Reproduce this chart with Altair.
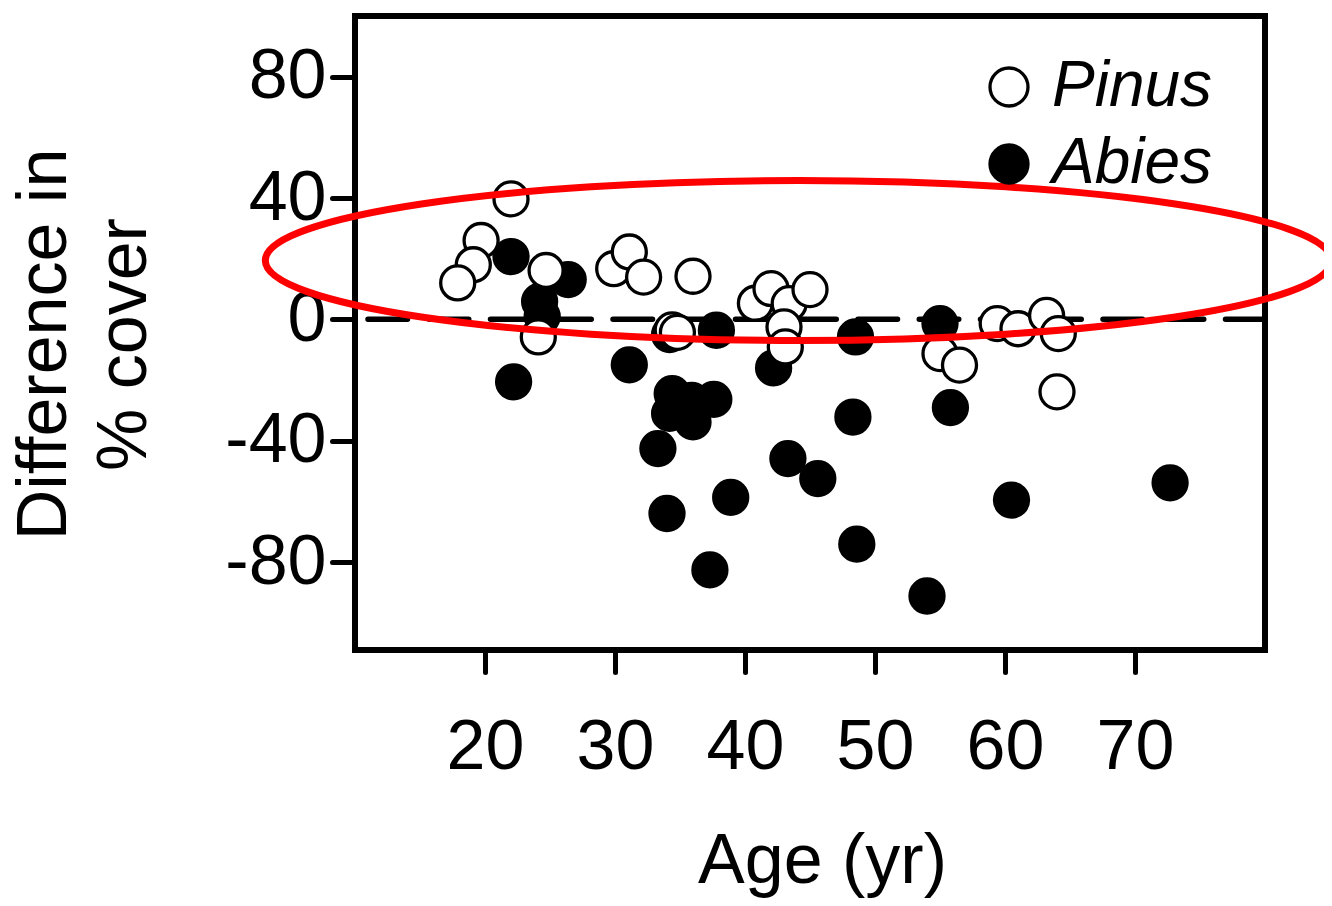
import altair as alt
import pandas as pd

# ---- data ----
species = ["Pinus", "Abies"]
species_fill = ["white", "black"]

pinus_age = [22.0, 19.7, 19.1, 17.9, 24.7, 24.1, 29.9, 31.1, 32.2, 36.0, 34.4, 34.8,
             40.8, 42.0, 43.4, 45.0, 43.0, 43.1, 55.0, 56.5, 59.4, 61.0, 63.2, 64.1, 64.0]
pinus_diff = [39.7, 26.0, 18.0, 12.0, 16.1, -5.8, 16.7, 22.2, 13.9, 14.2, -3.5, -4.3,
              5.3, 10.1, 5.2, 9.8, -2.5, -9.1, -11.3, -15.1, -1.4, -3.1, 1.3, -4.7, -23.9]

abies_age = [22.0, 26.4, 24.2, 24.4, 22.2, 31.1, 34.2, 37.8, 34.4, 35.9, 37.6, 34.2,
             36.0, 33.3, 34.0, 38.9, 37.3, 42.2, 48.5, 48.3, 43.3, 45.6, 55.0, 55.8,
             48.6, 54.0, 60.5, 72.7]
abies_diff = [20.7, 13.1, 5.9, 1.0, -20.6, -15.0, -5.0, -3.6, -24.5, -26.7, -26.4, -31.0,
              -33.8, -42.6, -64.0, -58.7, -82.6, -16.0, -5.8, -32.2, -45.9, -52.5, -1.4, -29.1,
              -74.1, -91.2, -59.6, -53.9]

x_ticks = [20, 30, 40, 50, 60, 70]
y_ticks = [-80, -40, 0, 40, 80]
x_domain = [10, 80]
y_domain = [-109, 100]
zero_line = [0]

# highlight ellipse (annotation): centre in data units
ellipse_age = [44.1]
ellipse_diff = [19.4]

FONT = "Liberation Sans"
FS = 70

df = pd.DataFrame({
    "Age": abies_age + pinus_age,
    "Diff": abies_diff + pinus_diff,
    "Species": ["Abies"] * len(abies_age) + ["Pinus"] * len(pinus_age),
})

x_enc = alt.X(
    "Age:Q",
    scale=alt.Scale(domain=x_domain, nice=False, zero=False),
    axis=alt.Axis(
        values=x_ticks, labelExpr="'' + datum.value", grid=False, domain=False,
        tickSize=22, tickWidth=5, tickCap="round", tickColor="black",
        labelFont=FONT, labelFontSize=FS, labelColor="black", labelPadding=41,
        title="Age (yr)", titleFont=FONT, titleFontSize=FS, titleFontWeight="normal",
        titleColor="black", titleX=467, titleY=232, titleAlign="center",
        titleBaseline="alphabetic",
    ),
)
y_enc = alt.Y(
    "Diff:Q",
    scale=alt.Scale(domain=y_domain, nice=False, zero=False),
    axis=alt.Axis(
        values=y_ticks, labelExpr="'' + datum.value", grid=False, domain=False,
        tickSize=23, tickWidth=5, tickCap="round", tickColor="black",
        labelFont=FONT, labelFontSize=FS, labelColor="black", labelPadding=6,
        title=["Difference in", "% cover"], titleFont=FONT, titleFontSize=FS,
        titleFontWeight="normal", titleColor="black", titleAngle=270,
        titleX=-290, titleY=328, titleAlign="center", titleBaseline="alphabetic",
        titleLineHeight=80,
    ),
)
fill_enc = alt.Fill(
    "Species:N",
    scale=alt.Scale(domain=species, range=species_fill),
    legend=alt.Legend(
        title=None, orient="none", legendX=622, legendY=39, padding=0,
        symbolType="circle", symbolSize=1444, symbolStrokeColor="black",
        symbolStrokeWidth=3.3, symbolOpacity=1,
        labelFont=FONT, labelFontSize=64, labelFontStyle="italic", labelLimit=500,
        labelColor="black", labelOffset=11, rowPadding=13,
    ),
)

base = alt.Chart(df).encode(x=x_enc, y=y_enc, fill=fill_enc)

abies_layer = base.transform_filter(alt.datum.Species == "Abies").mark_point(
    shape="circle", filled=True, size=1156, stroke="black", strokeWidth=3.3, opacity=1
)
pinus_layer = base.transform_filter(alt.datum.Species == "Pinus").mark_point(
    shape="circle", filled=True, size=1156, stroke="black", strokeWidth=3.3, opacity=1
)

zero_layer = alt.Chart(pd.DataFrame({"Diff": zero_line})).mark_rule(
    color="black", strokeWidth=5.5, strokeDash=[39.5, 21.75], strokeCap="round"
).encode(y="Diff:Q")

ELLIPSE_PATH = (
    "M1,0 C1,0.0828 0.5523,0.15 0,0.15 C-0.5523,0.15 -1,0.0828 -1,0 "
    "C-1,-0.0828 -0.5523,-0.15 0,-0.15 C0.5523,-0.15 1,-0.0828 1,0 Z"
)
ellipse_layer = alt.Chart(pd.DataFrame({"Age": ellipse_age, "Diff": ellipse_diff})).mark_point(
    shape=ELLIPSE_PATH, size=1066 ** 2, filled=False, color="red",
    strokeWidth=7, opacity=1,
).encode(x="Age:Q", y="Diff:Q")

chart = alt.layer(abies_layer, zero_layer, pinus_layer, ellipse_layer).properties(
    width=910, height=634,
    background="white",
    autosize=alt.AutoSizeParams(type="none"),
    padding={"left": 347, "top": 8, "right": 59, "bottom": 248},
).configure_view(
    stroke="black", strokeWidth=6
)

chart.save("out.html", embed_options={"renderer": "svg", "actions": False})
